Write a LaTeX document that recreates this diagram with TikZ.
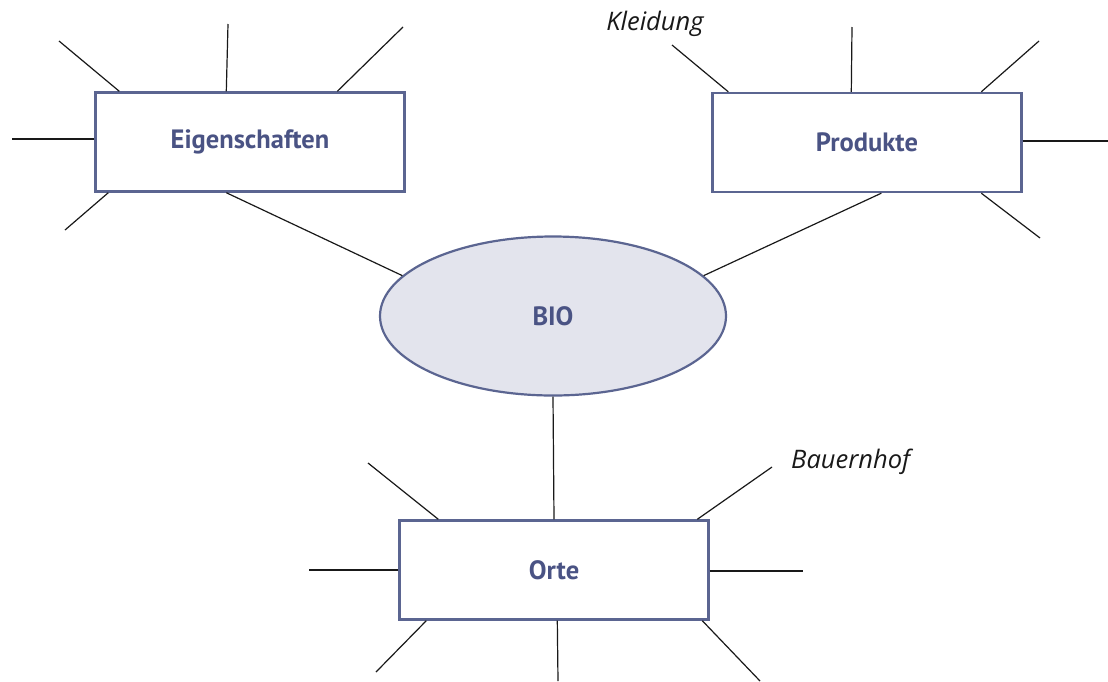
\documentclass[tikz,border=0pt]{standalone}
\usepackage{fontspec}
\setmainfont{PT Sans}
\newfontfamily\handfont{Open Sans}
\usetikzlibrary{shapes.geometric}
\definecolor{boxline}{HTML}{5B6591}
\definecolor{boxtext}{HTML}{4A5384}
\definecolor{biofill}{HTML}{E3E4ED}
\tikzset{
  topic/.style={draw=boxline, line width=2.4pt, fill=white, rectangle,
    minimum width=309pt, minimum height=99pt, inner sep=0pt,
    text=boxtext, font=\fontsize{26.5}{30}\selectfont\bfseries},
  centre/.style={draw=boxline, line width=2.2pt, fill=biofill, ellipse,
    minimum width=346pt, minimum height=159pt, inner sep=0pt,
    text=boxtext, font=\fontsize{26.5}{30}\selectfont\bfseries},
  branch/.style={draw=black!90, line width=1.2pt},
  note/.style={font=\handfont\itshape\fontsize{25.5}{30}\selectfont, text=black!90, inner sep=0pt}
}
\begin{document}
\begin{tikzpicture}[x=1pt,y=-1pt]
\useasboundingbox[fill=white] (0,0) rectangle (1108,681);

\node[centre] (bio) at (553,316) {BIO};
\node[topic] (eig) at (250,142) {Eigenschaften};
\node[topic] (prod) at (867,142.5) {Produkte};
\node[topic] (orte) at (554,570) {Orte};

\node[note] (kleid) at (655,24) {Kleidung};
\node[note, anchor=west] (bauer) at (791,462) {Bauernhof};

% free ends
\coordinate (e1) at (59,41);
\coordinate (e2) at (228,24);
\coordinate (e3) at (403,27);
\coordinate (e4) at (12,139);
\coordinate (e5) at (65,230);
\coordinate (p1) at (672,45);
\coordinate (p2) at (852,27);
\coordinate (p3) at (1039,41);
\coordinate (p4) at (1108,141);
\coordinate (p5) at (1040,238);
\coordinate (o1) at (368,463);
\coordinate (o2) at (309,570);
\coordinate (o3) at (376,672);
\coordinate (o4) at (558,681);
\coordinate (o5) at (772,467);
\coordinate (o6) at (803,571);
\coordinate (o7) at (760,681);

% connections to BIO
\draw[branch] ([xshift=132pt]eig.south west) -- (bio.165);
\draw[branch] ([xshift=170pt]prod.south west) -- (bio.15);
\draw[branch] (bio.south) -- (orte.north);

% Eigenschaften branches
\draw[branch] ([xshift=25pt]eig.north west) -- (e1);
\draw[branch] ([xshift=132pt]eig.north west) -- (e2);
\draw[branch] ([xshift=243pt]eig.north west) -- (e3);
\draw[branch] ([yshift=3pt]eig.west) -- (e4);
\draw[branch] ([xshift=14pt]eig.south west) -- (e5);

% Produkte branches
\draw[branch] ([xshift=17pt]prod.north west) -- (p1);
\draw[branch] ([xshift=140pt]prod.north west) -- (p2);
\draw[branch] ([xshift=270pt]prod.north west) -- (p3);
\draw[branch] ([yshift=1.5pt]prod.east) -- (p4);
\draw[branch] ([xshift=270pt]prod.south west) -- (p5);

% Orte branches
\draw[branch] ([xshift=40pt]orte.north west) -- (o1);
\draw[branch] (orte.west) -- (o2);
\draw[branch] ([xshift=28pt]orte.south west) -- (o3);
\draw[branch] ([xshift=159pt]orte.south west) -- (o4);
\draw[branch] ([xshift=299pt]orte.north west) -- (o5);
\draw[branch] ([yshift=-1pt]orte.east) -- (o6);
\draw[branch] ([xshift=304pt]orte.south west) -- (o7);
\end{tikzpicture}
\end{document}
